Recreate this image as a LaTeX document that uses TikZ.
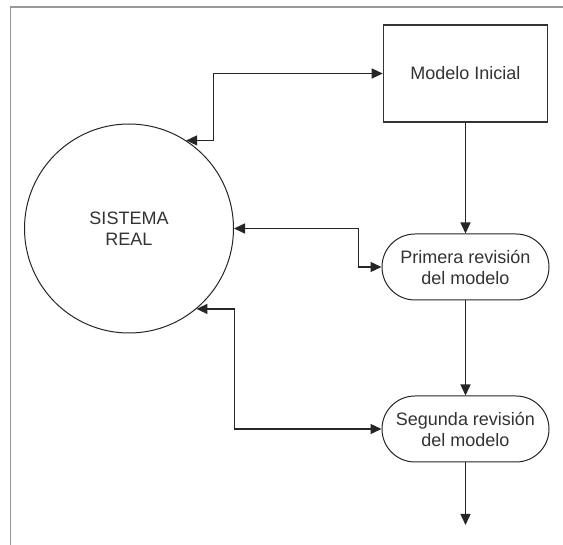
\documentclass[tikz,border=0pt]{standalone}
\usepackage{fontspec}
\setmainfont{Liberation Sans}
\usetikzlibrary{arrows.meta}
\tikzset{
  txt/.style={font=\fontsize{18}{21}\selectfont, text=black!80, align=center},
  circ/.style={circle, draw=black!85, line width=1pt, minimum size=209pt, inner sep=0pt, txt},
  boxa/.style={rectangle, draw=black!80, line width=1.6pt, minimum width=164pt, minimum height=97pt, inner sep=0pt, txt},
  stad/.style={rectangle, rounded corners=33pt, draw=black!85, line width=1pt, minimum width=167pt, minimum height=66pt, inner sep=0pt, txt},
  conn/.style={line width=1.4pt, draw=black!85, line join=miter},
  tipb/.style={conn, {Triangle[length=11pt,width=10pt]}-{Triangle[length=11pt,width=10pt]}},
  tipe/.style={conn, -{Triangle[length=11pt,width=10pt]}},
  frame/.style={draw=black!40, line width=1.2pt}
}
\begin{document}
\begin{tikzpicture}[x=1pt,y=-1pt]
\useasboundingbox (0,0) rectangle (563,545);
\fill[white] (0,0) rectangle (563,545);
\draw[frame] (10.5,545) -- (10.5,7) -- (563,7);
\node[circ] (sis) at (129,228.5) {SISTEMA\\REAL};
\node[boxa] (mi) at (465.5,73.5) {Modelo Inicial};
\node[stad] (prim) at (465.5,267) {Primera revisión\\del modelo};
\node[stad] (seg) at (465.5,429) {Segunda revisión\\del modelo};
\coordinate (out) at (465.5,525);
\draw[tipb] (mi.west) -- ++(-169,0) |- (sis.57.9);
\draw[tipb] (sis.east) -- ++(124.5,0) |- (prim.west);
\draw[tipb] (sis.-50.4) -- ++(38,0) |- (seg.west);
\draw[tipe] (mi.south) -- (prim.north);
\draw[tipe] (prim.south) -- (seg.north);
\draw[tipe] (seg.south) -- (out);
\end{tikzpicture}
\end{document}
